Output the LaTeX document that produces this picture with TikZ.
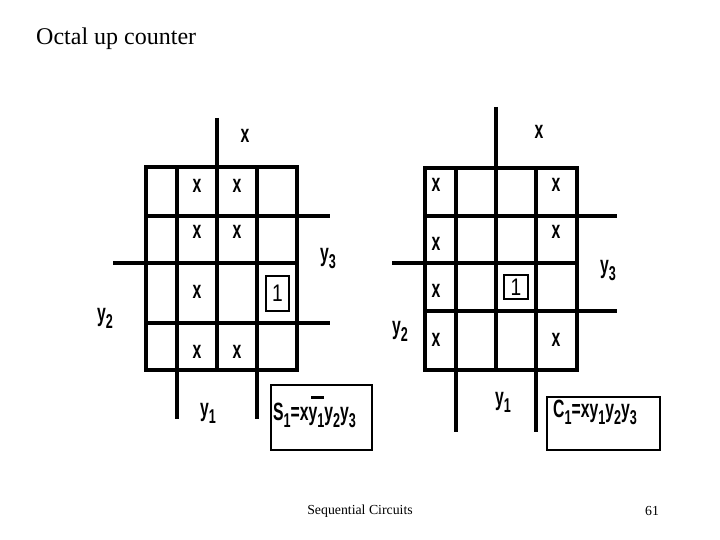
\documentclass[tikz,border=0pt]{standalone}
\usepackage{fontspec}
\setmainfont{Liberation Serif}
\setsansfont{Liberation Sans}
\newfontfamily\mapfont[FakeStretch=0.63]{Liberation Sans}
\newfontfamily\onefont[FakeStretch=0.8]{Liberation Sans}
\usetikzlibrary{positioning}
\newcommand{\ysub}[1]{y\raisebox{-0.28em}{\fontsize{20}{20}\selectfont #1}}
\newcommand{\ybar}{\rlap{\hspace{0.1em}\raisebox{0.86em}{\rule{0.5em}{0.11em}}}}

\begin{document}
\begin{tikzpicture}[
    x=1pt, y=-1pt,
    grid/.style={line width=3.6pt, line cap=rect},
    rail/.style={line width=3.6pt},
    entry/.style={inner sep=0pt, font=\mapfont\bfseries\fontsize{25}{25}\selectfont},
    eqn/.style={inner sep=0pt, font=\mapfont\bfseries\fontsize{25}{25}\selectfont},
    onebox/.style={rectangle, draw, line width=1.1pt, font=\onefont\fontsize{24}{24}\selectfont, inner sep=0pt},
    eqnbox/.style={rectangle, draw, line width=1.8pt},
    caption/.style={inner sep=0pt, font=\fontsize{13.8}{13.8}\selectfont}
]
\useasboundingbox (0,0) rectangle (720,540);

% Title
\node[inner sep=0pt, anchor=west, font=\fontsize{24}{24}\selectfont] (title) at (36,39) {Octal up counter};

% Left map
\draw[grid] (146,167) rectangle (297,370);
\draw[rail] (217,118) -- (217,370);
\draw[rail] (177,167) -- (177,419);
\draw[rail] (257,167) -- (257,419);
\draw[rail] (146,216) -- (330,216);
\draw[rail] (113,263) -- (297,263);
\draw[rail] (146,323) -- (330,323);

\node[entry] (la) at (197,186) {x};
\node[entry] (lb) at (237,186) {x};
\node[entry] (lc) at (197,232) {x};
\node[entry] (ld) at (237,232) {x};
\node[entry] (le) at (197,292) {x};
\node[entry] (lf) at (197,352) {x};
\node[entry] (lg) at (237,352) {x};
\node[onebox, minimum width=23pt, minimum height=35pt] (lone) at (277.5,293.5) {1};

\node[entry] (lx) at (245,136) {x};
\node[entry] (ly3) at (328,259) {\ysub{3}};
\node[entry] (ly2) at (105,318) {\ysub{2}};
\node[entry] (ly1) at (208,413) {\ysub{1}};

\node[eqnbox, minimum width=101pt, minimum height=65pt] (sbox) at (321.5,417.5) {};
\node[eqn, anchor=west] (seq) at (273,412) {S\raisebox{-0.28em}{\fontsize{20}{20}\selectfont 1}=x\ybar\ysub{1}\ysub{2}\ysub{3}};

% Right map
\draw[grid] (425,168) rectangle (577,370);
\draw[rail] (496,107) -- (496,370);
\draw[rail] (456,168) -- (456,432);
\draw[rail] (536,168) -- (536,432);
\draw[rail] (425,216) -- (617,216);
\draw[rail] (392,263) -- (577,263);
\draw[rail] (425,311) -- (617,311);

\node[entry] (ra) at (436,185) {x};
\node[entry] (rb) at (556,185) {x};
\node[entry] (rc) at (436,244) {x};
\node[entry] (rd) at (556,232) {x};
\node[entry] (re) at (436,291) {x};
\node[entry] (rf) at (436,340) {x};
\node[entry] (rg) at (556,340) {x};
\node[onebox, minimum width=24pt, minimum height=24pt] (rone) at (516,287) {1};

\node[entry] (rx) at (539,132) {x};
\node[entry] (ry3) at (608,271) {\ysub{3}};
\node[entry] (ry2) at (400,331) {\ysub{2}};
\node[entry] (ry1) at (503,402) {\ysub{1}};

\node[eqnbox, minimum width=113pt, minimum height=53pt] (cbox) at (603.5,423.5) {};
\node[eqn, anchor=west] (ceq) at (553,412) {C\raisebox{-0.28em}{\fontsize{20}{20}\selectfont 1}=x\ysub{1}\ysub{2}\ysub{3}};

% Footer
\node[caption] (foot) at (360,511) {Sequential Circuits};
\node[caption] (page) at (652,511) {61};
\end{tikzpicture}
\end{document}
